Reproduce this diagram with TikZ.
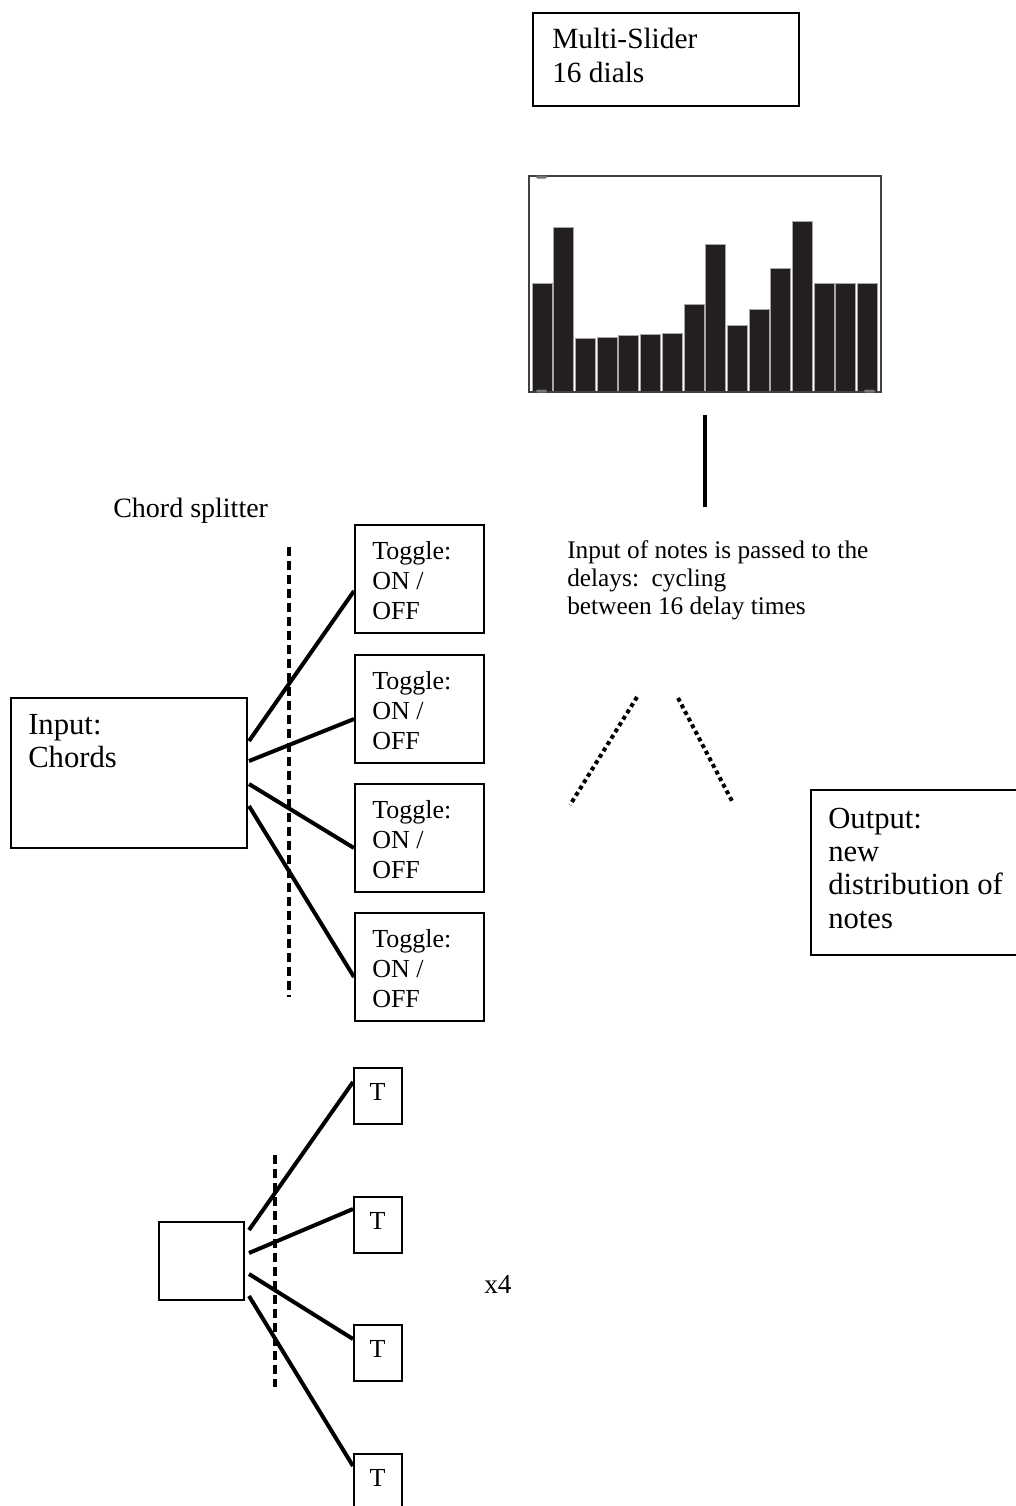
\documentclass[tikz,border=0pt]{standalone}
\usepackage{fontspec}
\setmainfont{Liberation Serif}
\usetikzlibrary{calc}
\definecolor{barfill}{HTML}{231F20}
\tikzset{
  box/.style={draw, line width=1.5pt, inner sep=0pt, anchor=north west},
  conn/.style={line width=3pt},
  splitline/.style={line width=3pt, dash pattern=on 7pt off 3.5pt},
  dotline/.style={line width=3pt, dash pattern=on 3pt off 2.6pt},
  bigtxt/.style={font=\fontsize{23}{25}\selectfont, inner sep=0pt, anchor=base west},
  midtxt/.style={font=\fontsize{19.5}{22.5}\selectfont, inner sep=0pt, anchor=base west},
  smalltxt/.style={font=\fontsize{19}{21}\selectfont, inner sep=0pt, anchor=base west},
  bar/.style={fill=barfill, draw=black!35, line width=0.6pt},
  handle/.style={fill=black!55, rounded corners=1pt},
}
\begin{document}
\begin{tikzpicture}[x=0.75pt,y=-0.75pt]
\useasboundingbox (0,0) rectangle (1016,1506);
\clip (0,0) rectangle (1016,1506);

% Multi-slider box
\node[box, minimum width={266*0.75pt}, minimum height={93*0.75pt}] (ms) at (532,12) {};
\node[bigtxt, font=\fontsize{22}{26}\selectfont] (mstxt) at (552,48) {\vtop{\hbox{Multi-Slider}\hbox{16 dials}}};

% slider chart
\foreach \h [count=\i from 0] in {283,227,338,337,335,334,333,304,244,325,309,268,221,283,283,283} {
  \draw[bar] ({532+\i*21.7},\h) rectangle ({552+\i*21.7},391);
}
\draw[black!75, line width=1.3pt] (529,176) rectangle (881,392);
\fill[handle] (536,175.5) rectangle (547,178.5);
\fill[handle] (536,389.5) rectangle (547,392.5);
\fill[handle] (864,389.5) rectangle (875,392.5);

% line below chart
\coordinate (vl1) at (705,415);
\coordinate (vl2) at (705,507);
\draw[conn] (vl1) -- (vl2);

% description text
\node[smalltxt] (desc) at (567,558) {\vtop{\hbox{Input of notes is passed to the}\hbox{delays:\ \ cycling}\hbox{between 16 delay times}}};

% dotted lines
\coordinate (d1a) at (637,697);
\coordinate (d1b) at (570,805);
\coordinate (d2a) at (678,698);
\coordinate (d2b) at (733,803);
\draw[dotline] (d1a) -- (d1b);
\draw[dotline] (d2a) -- (d2b);

% output box
\node[box, minimum width={230*0.75pt}, minimum height={165*0.75pt}] (out) at (810,789) {};
\node[bigtxt] (outtxt) at (828,828) {\vtop{\hbox{Output:}\hbox{new}\hbox{distribution of}\hbox{notes}}};

% chord splitter
\node[midtxt, font=\fontsize{21}{24}\selectfont] (cs) at (113,517) {Chord splitter};

% input box
\node[box, minimum width={236*0.75pt}, minimum height={150*0.75pt}] (inp) at (10,697) {};
\node[bigtxt] (inptxt) at (28,734) {\vtop{\hbox{Input:}\hbox{Chords}}};

% toggles
\foreach \n/\y in {1/524, 2/654, 3/783, 4/912} {
  \node[box, minimum width={129*0.75pt}, minimum height={108*0.75pt}] (tg\n) at (354,\y) {};
  \node[midtxt] (tgt\n) at (372,\y+35) {\vtop{\hbox{Toggle:}\hbox{ON /}\hbox{OFF}}};
}

% dashed splitter line
\coordinate (sp1a) at (289,547);
\coordinate (sp1b) at (289,997);
\draw[splitline] (sp1a) -- (sp1b);

% connectors
\draw[conn] ($(inp.east)+(1,-32)$) -- ($(tg1.west)+(0,12)$);
\draw[conn] ($(inp.east)+(1,-12)$) -- ($(tg2.west)+(0,10)$);
\draw[conn] ($(inp.east)+(1,11)$) -- ($(tg3.west)+(0,10)$);
\draw[conn] ($(inp.east)+(1,33)$) -- ($(tg4.west)+(0,10)$);

% bottom section
\node[box, minimum width={85*0.75pt}, minimum height={78*0.75pt}] (sm) at (158,1221) {};
\foreach \n/\y in {1/1067, 2/1196, 3/1324, 4/1453} {
  \node[box, minimum width={48*0.75pt}, minimum height={56*0.75pt}] (t\n) at (353,\y) {};
  \node[midtxt, anchor=base] (tt\n) at (377.5,\y+33) {T};
}
\coordinate (sp2a) at (275,1155);
\coordinate (sp2b) at (275,1387);
\draw[splitline] (sp2a) -- (sp2b);

\draw[conn] ($(sm.east)+(4,-31)$) -- ($(t1.west)+(0,-14)$);
\draw[conn] ($(sm.east)+(4,-8)$) -- ($(t2.west)+(0,-16)$);
\draw[conn] ($(sm.east)+(4,13)$) -- ($(t3.west)+(0,-14)$);
\draw[conn] ($(sm.east)+(4,35)$) -- ($(t4.west)+(0,-16)$);

\node[midtxt, font=\fontsize{20.5}{24}\selectfont] (x4) at (484,1293) {x4};
\end{tikzpicture}
\end{document}
